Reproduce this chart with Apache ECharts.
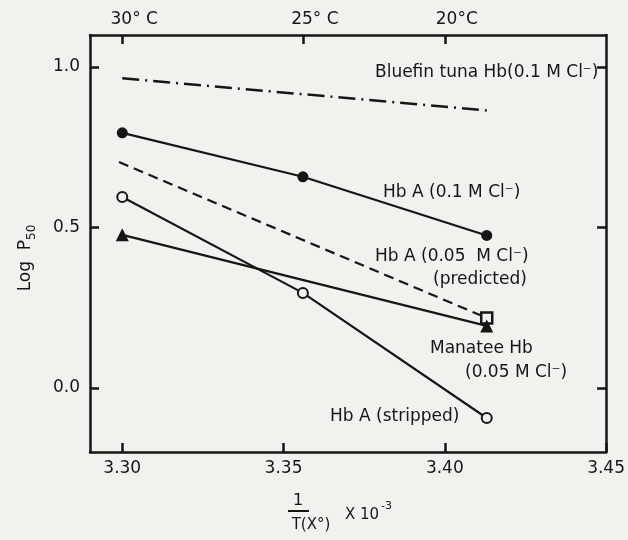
<!DOCTYPE html>
<html>
<head>
<meta charset="utf-8">
<script src="https://cdn.jsdelivr.net/npm/echarts@6/dist/echarts.min.js"></script>
<style>
  html, body { margin: 0; padding: 0; background: #f3f1ed; }
  #chart { width: 628px; height: 540px; }
</style>
</head>
<body>
<div id="chart"></div>
<script>
// ---- data ----
const tempX = [3.30, 3.356, 3.413];           // 1/T x 10^-3 at 30, 25, 20 °C
const hbA01 = [0.795, 0.658, 0.475];          // Hb A (0.1 M Cl-)
const hbAStripped = [0.595, 0.296, -0.094];   // Hb A (stripped)
const manateeX = [3.30, 3.413];
const manatee = [0.477, 0.193];               // Manatee Hb (0.05 M Cl-)
const predictedX = [3.299, 3.413];
const predicted = [0.704, 0.218];             // Hb A (0.05 M Cl-) predicted
const tunaX = [3.30, 3.413];
const tuna = [0.965, 0.865];                  // Bluefin tuna Hb (0.1 M Cl-)

const xTicks = [3.30, 3.35, 3.40, 3.45];
const yTicks = [0.0, 0.5, 1.0];
const topTicks = [3.30, 3.356, 3.40];
const topLabels = ['30° C', '25° C', '20°C'];

const ink = '#161616';
const font = 'DejaVu Sans';

function pairs(xs, ys) { return xs.map((x, i) => [x, ys[i]]); }

const chart = echarts.init(document.getElementById('chart'), null, { renderer: 'canvas' });

const axisLine = { show: true, onZero: false, lineStyle: { color: ink, width: 2.5 } };
const tick = (vals) => ({ show: true, inside: true, length: 9, customValues: vals, lineStyle: { color: ink, width: 2.5 } });

const option = {
  backgroundColor: '#f3f1ed',
  animation: false,
  grid: { left: 90, right: 17, top: 35, bottom: 88 },
  xAxis: [
    {
      type: 'value', min: 3.29, max: 3.45, position: 'bottom',
      axisLine: axisLine, axisTick: tick(xTicks), splitLine: { show: false },
      axisLabel: { customValues: xTicks, formatter: v => v.toFixed(2), color: ink, fontFamily: font, fontSize: 17, margin: 8 }
    },
    {
      type: 'value', min: 3.29, max: 3.45, position: 'top',
      axisLine: axisLine, axisTick: tick(topTicks), splitLine: { show: false },
      axisLabel: {
        customValues: topTicks, margin: 7,
        formatter: v => {
          let best = 0;
          topTicks.forEach((t, i) => { if (Math.abs(t - v) < Math.abs(topTicks[best] - v)) best = i; });
          return '{a|' + topLabels[best] + '}';
        },
        rich: { a: { color: ink, fontFamily: font, fontSize: 17, padding: [0, 0, 0, 24] } }
      }
    }
  ],
  yAxis: [
    {
      type: 'value', min: -0.2, max: 1.1, position: 'left',
      axisLine: axisLine, axisTick: tick(yTicks), splitLine: { show: false },
      axisLabel: { customValues: yTicks, formatter: v => v.toFixed(1), color: ink, fontFamily: font, fontSize: 17, margin: 10 }
    },
    {
      type: 'value', min: -0.2, max: 1.1, position: 'right',
      axisLine: axisLine, axisTick: tick(yTicks), splitLine: { show: false },
      axisLabel: { show: false }
    }
  ],
  series: [
    {
      name: 'Bluefin tuna Hb', type: 'line', data: pairs(tunaX, tuna), symbol: 'none',
      lineStyle: { color: ink, width: 2.5, type: [17, 6, 2, 6] }, z: 2
    },
    {
      name: 'Hb A (0.1 M Cl-)', type: 'line', data: pairs(tempX, hbA01),
      symbol: 'circle', symbolSize: 11, itemStyle: { color: ink },
      lineStyle: { color: ink, width: 2.2 }, z: 3
    },
    {
      name: 'Hb A (0.05 M Cl-) predicted', type: 'line',
      data: pairs(predictedX, predicted).map((p, i, a) => ({ value: p, symbol: i === a.length - 1 ? 'rect' : 'none' })),
      symbolSize: 11, itemStyle: { color: '#f3f1ed', borderColor: ink, borderWidth: 2.5 },
      lineStyle: { color: ink, width: 2.2, type: [10, 6] }, z: 3
    },
    {
      name: 'Hb A (stripped)', type: 'line', data: pairs(tempX, hbAStripped),
      symbol: 'circle', symbolSize: 10, itemStyle: { color: '#f3f1ed', borderColor: ink, borderWidth: 2 },
      lineStyle: { color: ink, width: 2.2 }, z: 3
    },
    {
      name: 'Manatee Hb', type: 'line', data: pairs(manateeX, manatee),
      symbol: 'triangle', symbolSize: 13, itemStyle: { color: ink },
      lineStyle: { color: ink, width: 2.2 }, z: 4
    }
  ],
  graphic: [
    { type: 'text', x: 375, y: 73, style: { text: 'Bluefin tuna Hb(0.1 M Cl⁻)', fill: ink, font: '17px "DejaVu Sans"', textVerticalAlign: 'middle' } },
    { type: 'text', x: 383, y: 193, style: { text: 'Hb A (0.1 M Cl⁻)', fill: ink, font: '17px "DejaVu Sans"', textVerticalAlign: 'middle' } },
    { type: 'text', x: 375, y: 257, style: { text: 'Hb A (0.05  M Cl⁻)', fill: ink, font: '17px "DejaVu Sans"', textVerticalAlign: 'middle' } },
    { type: 'text', x: 433, y: 280, style: { text: '(predicted)', fill: ink, font: '17px "DejaVu Sans"', textVerticalAlign: 'middle' } },
    { type: 'text', x: 430, y: 349, style: { text: 'Manatee Hb', fill: ink, font: '17px "DejaVu Sans"', textVerticalAlign: 'middle' } },
    { type: 'text', x: 465, y: 373, style: { text: '(0.05 M Cl⁻)', fill: ink, font: '17px "DejaVu Sans"', textVerticalAlign: 'middle' } },
    { type: 'text', x: 330, y: 417, style: { text: 'Hb A (stripped)', fill: ink, font: '17px "DejaVu Sans"', textVerticalAlign: 'middle' } },
    {
      type: 'text', x: 26, y: 258, rotation: Math.PI / 2,
      style: {
        text: '{a|Log  P}{s|50}', textAlign: 'center', textVerticalAlign: 'middle',
        rich: {
          a: { fontFamily: font, fontSize: 17, fill: ink, lineHeight: 24, verticalAlign: 'middle' },
          s: { fontFamily: font, fontSize: 12, fill: ink, lineHeight: 24, verticalAlign: 'bottom' }
        }
      }
    },
    { type: 'text', x: 298, y: 501, style: { text: '1', fill: ink, font: '16px "DejaVu Sans"', textAlign: 'center', textVerticalAlign: 'middle' } },
    { type: 'line', shape: { x1: 288, y1: 511, x2: 309, y2: 511 }, style: { stroke: ink, lineWidth: 2 } },
    { type: 'text', x: 311, y: 525, style: { text: 'T(X°)', fill: ink, font: '15px "DejaVu Sans"', textAlign: 'center', textVerticalAlign: 'middle' } },
    { type: 'text', x: 345, y: 515, style: { text: 'X 10', fill: ink, font: '15px "DejaVu Sans"', textVerticalAlign: 'middle' } },
    { type: 'text', x: 381, y: 506, style: { text: '-3', fill: ink, font: '11px "DejaVu Sans"', textVerticalAlign: 'middle' } }
  ]
};
chart.setOption(option);
</script>
</body>
</html>
